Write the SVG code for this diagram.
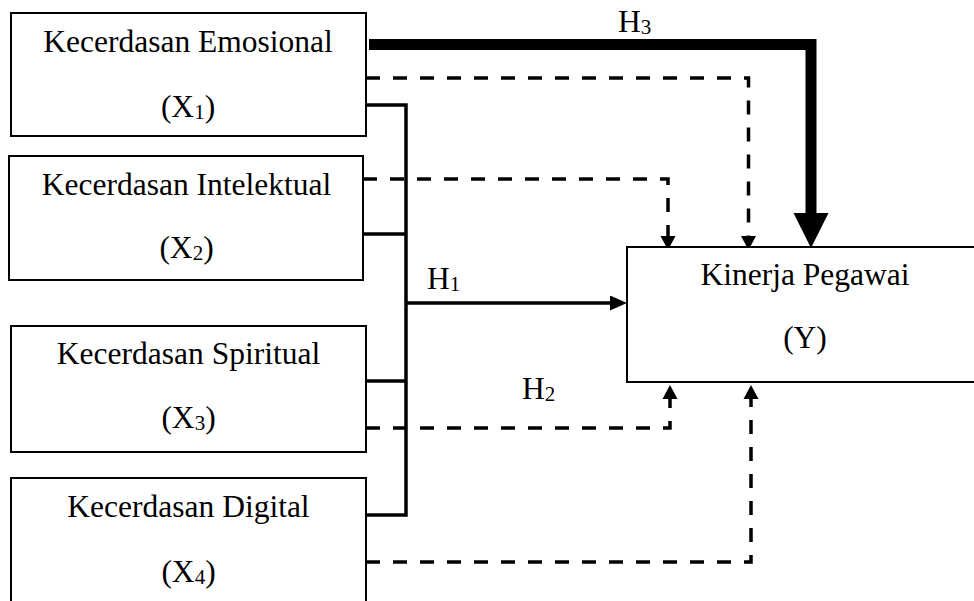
<svg xmlns="http://www.w3.org/2000/svg" width="974" height="601" viewBox="0 0 974 601">
<style>
.box{fill:#fff;stroke:#000;stroke-width:2}
.t{font-family:"Liberation Serif","Times New Roman",serif;font-size:31.5px;fill:#000;text-anchor:middle}
.lbl{font-family:"Liberation Serif","Times New Roman",serif;font-size:31.5px;fill:#000}
.sub{font-size:21px}
.solid{fill:none;stroke:#000;stroke-width:3.5}
.dash{fill:none;stroke:#000;stroke-width:3.5;stroke-dasharray:14 13}
.thick{fill:none;stroke:#000;stroke-width:11}
</style>
<defs>
<marker id="sa" markerUnits="userSpaceOnUse" markerWidth="14" markerHeight="16" refX="0" refY="8" orient="auto" viewBox="0 0 14 16"><path d="M0,0.5 L14,8 L0,15.5 z" fill="#000"/></marker>
<marker id="ha" markerUnits="userSpaceOnUse" markerWidth="17" markerHeight="15" refX="0" refY="7.5" orient="auto" viewBox="0 0 17 15"><path d="M0,0 L17,7.5 L0,15 z" fill="#000"/></marker>
<marker id="ba" markerUnits="userSpaceOnUse" markerWidth="35" markerHeight="36" refX="0" refY="18" orient="auto" viewBox="0 0 35 36"><path d="M0,0.5 L35,18 L0,35.5 z" fill="#000"/></marker>
</defs>
<g id="connectors">
<path class="thick" d="M369,44.5 H811 V213" marker-end="url(#ba)"/>
<path class="dash" d="M366,78 H748.5 V236" marker-end="url(#sa)"/>
<path class="dash" d="M363,179 H668 V236" marker-end="url(#sa)"/>
<path class="dash" d="M366,428 H670 V399" marker-end="url(#sa)"/>
<path class="dash" d="M366,562 H751 V399" marker-end="url(#sa)"/>
<path class="solid" d="M366,105 H406 V515 H366"/>
<path class="solid" d="M363,234 H406"/>
<path class="solid" d="M366,381 H406"/>
<path class="solid" d="M406,303 H610" marker-end="url(#ha)"/>
<text class="lbl" x="618" y="32">H<tspan class="sub" dy="2">3</tspan></text>
<text class="lbl" x="427" y="289">H<tspan class="sub" dy="2">1</tspan></text>
<text class="lbl" x="522" y="399">H<tspan class="sub" dy="2">2</tspan></text>
</g>
<g id="x1">
<rect class="box" x="11" y="13" width="355" height="123"/>
<text class="t" x="188" y="52">Kecerdasan Emosional</text>
<text class="t" x="188" y="117">(X<tspan class="sub" dy="2">1</tspan><tspan dy="-2">)</tspan></text>
</g>
<g id="x2">
<rect class="box" x="9" y="156" width="354" height="124"/>
<text class="t" x="186.5" y="195">Kecerdasan Intelektual</text>
<text class="t" x="186.5" y="258">(X<tspan class="sub" dy="2">2</tspan><tspan dy="-2">)</tspan></text>
</g>
<g id="x3">
<rect class="box" x="11" y="326" width="355" height="126"/>
<text class="t" x="188.5" y="364">Kecerdasan Spiritual</text>
<text class="t" x="188.5" y="428">(X<tspan class="sub" dy="2">3</tspan><tspan dy="-2">)</tspan></text>
</g>
<g id="x4">
<rect class="box" x="11" y="478" width="355" height="140"/>
<text class="t" x="188.5" y="517">Kecerdasan Digital</text>
<text class="t" x="188.5" y="582">(X<tspan class="sub" dy="2">4</tspan><tspan dy="-2">)</tspan></text>
</g>
<g id="y">
<rect class="box" x="627" y="247" width="360" height="135"/>
<text class="t" x="805" y="285">Kinerja Pegawai</text>
<text class="t" x="805" y="348">(Y)</text>
</g>
</svg>
